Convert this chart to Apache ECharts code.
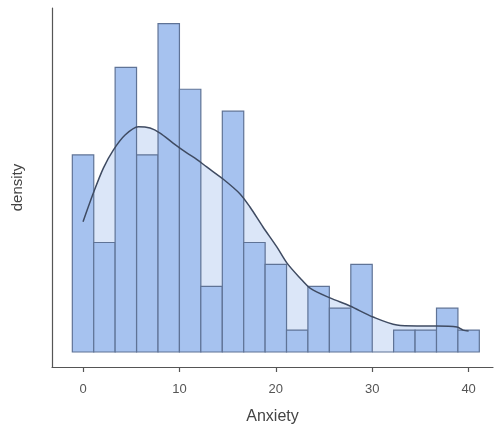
<!DOCTYPE html>
<html>
<head>
<meta charset="utf-8">
<script src="https://cdn.jsdelivr.net/npm/echarts@6/dist/echarts.min.js"></script>
<style>
  html, body { margin: 0; padding: 0; background: #ffffff; }
  #chart { width: 497px; height: 436px; }
</style>
</head>
<body>
<div id="chart"></div>
<script>
// Histogram of Anxiety scores: 19 bins of width 40/18, centred on 0 .. 40
const binWidth = 40 / 18;
const binCenters = [0, 2.22, 4.44, 6.67, 8.89, 11.11, 13.33, 15.56, 17.78, 20,
                    22.22, 24.44, 26.67, 28.89, 31.11, 33.33, 35.56, 37.78, 40];
const binCounts = [9, 5, 13, 9, 15, 12, 3, 11, 5, 4, 1, 3, 2, 4, 0, 1, 1, 2, 1];

// Kernel density estimate, scaled to the count axis
const densityX = [0, 1.07, 2.11, 3.14, 4.36, 5.74, 6.95, 7.99, 9.34, 10.76, 11.79,
                  12.83, 14.52, 16.29, 17.32, 18.67, 20.12, 21.16, 22.51, 23.55,
                  25.62, 27.7, 30.08, 32.57, 34.65, 36.72, 38.8, 39.42, 40];
const densityY = [5.95, 7.26, 8.4, 9.22, 9.91, 10.29, 10.23, 10.0, 9.54, 9.09, 8.8,
                  8.45, 7.9, 7.22, 6.62, 5.71, 4.79, 4.06, 3.38, 2.92,
                  2.47, 2.1, 1.6, 1.23, 1.19, 1.19, 1.14, 1.0, 0.96];

const xTicks = [0, 10, 20, 30, 40];

const bins = binCenters.map((c, i) => [c - binWidth / 2, c + binWidth / 2, binCounts[i]]);
const density = densityX.map((x, i) => [x, densityY[i]]);

const chart = echarts.init(document.getElementById('chart'), null, { renderer: 'canvas' });

chart.setOption({
  animation: false,
  backgroundColor: '#ffffff',
  grid: { left: 52, right: 4, top: 8, bottom: 69, containLabel: false },
  xAxis: {
    type: 'value',
    min: -3.22,
    max: 42.53,
    name: 'Anxiety',
    nameLocation: 'middle',
    nameGap: 42,
    nameTextStyle: { color: '#444444', fontSize: 16, fontFamily: 'Liberation Sans, Arial, sans-serif' },
    splitLine: { show: false },
    axisLine: { onZero: false, lineStyle: { color: '#555555', width: 1.2 } },
    axisTick: { show: true, length: 5, customValues: xTicks, lineStyle: { color: '#555555', width: 1.2 } },
    axisLabel: {
      customValues: xTicks,
      color: '#555555',
      fontSize: 13,
      margin: 16,
      fontFamily: 'Liberation Sans, Arial, sans-serif'
    }
  },
  yAxis: {
    type: 'value',
    min: -0.685,
    max: 15.71,
    name: 'density',
    nameLocation: 'middle',
    nameGap: 27,
    nameRotate: 90,
    nameTextStyle: { color: '#444444', fontSize: 15, fontFamily: 'Liberation Sans, Arial, sans-serif' },
    splitLine: { show: false },
    axisLine: { show: true, onZero: false, lineStyle: { color: '#555555', width: 1.2 } },
    axisTick: { show: false },
    axisLabel: { show: false }
  },
  series: [
    {
      // filled area under the density curve, behind the bars
      type: 'line',
      data: density,
      smooth: 0.3,
      symbol: 'none',
      lineStyle: { width: 0 },
      areaStyle: { color: '#dbe6f8', opacity: 1 },
      z: 1
    },
    {
      type: 'custom',
      data: bins,
      z: 2,
      renderItem: function (params, api) {
        const p0 = api.coord([api.value(0), 0]);
        const p1 = api.coord([api.value(1), api.value(2)]);
        return {
          type: 'rect',
          shape: { x: p0[0], y: p1[1], width: p1[0] - p0[0], height: p0[1] - p1[1] },
          style: { fill: '#a6c2ef', stroke: '#5f7396', lineWidth: 1.2 }
        };
      }
    },
    {
      // density curve drawn over the bars
      type: 'line',
      data: density,
      smooth: 0.3,
      symbol: 'none',
      lineStyle: { color: '#3f4b62', width: 1.5 },
      z: 3
    }
  ]
});
</script>
</body>
</html>
